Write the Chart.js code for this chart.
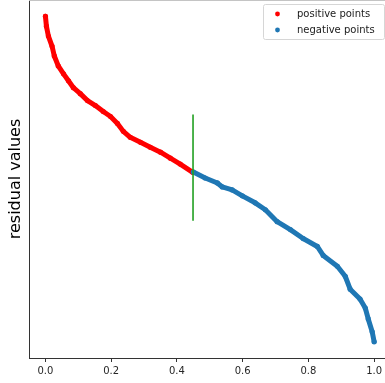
<!DOCTYPE html>
<html>
<head>
<meta charset="utf-8">
<title>residual values</title>
<script src="https://cdn.jsdelivr.net/npm/chart.js"></script>
<style>
  html, body { margin: 0; padding: 0; background: #fff; overflow: hidden; }
  canvas { display: block; }
</style>
</head>
<body>
<canvas id="residuos" width="385" height="383"></canvas>
<script>
// sorted residuals
const posX = [0.000, 0.003, 0.009, 0.020, 0.027, 0.039, 0.055, 0.070, 0.085, 0.106, 0.128, 0.152,
              0.176, 0.198, 0.219, 0.237, 0.258, 0.289, 0.319, 0.350, 0.380, 0.410, 0.447];
const posY = [1.57, 1.47, 1.37, 1.27, 1.17, 1.07, 0.99, 0.92, 0.85, 0.79, 0.72, 0.67,
              0.61, 0.56, 0.49, 0.41, 0.35, 0.30, 0.25, 0.20, 0.14, 0.08, 0.00];
const negX = [0.450, 0.486, 0.523, 0.538, 0.568, 0.599, 0.638, 0.669, 0.705, 0.745, 0.784,
              0.827, 0.845, 0.888, 0.912, 0.927, 0.957, 0.973, 0.982, 0.994, 1.000];
const negY = [0.00, -0.06, -0.11, -0.15, -0.18, -0.24, -0.31, -0.38, -0.50, -0.58, -0.67,
              -0.75, -0.84, -0.95, -1.05, -1.18, -1.28, -1.37, -1.48, -1.61, -1.71];
const splitX = [0.449, 0.449];
const splitY = [0.58, -0.49];
const xTicks = [0.0, 0.2, 0.4, 0.6, 0.8, 1.0];
const legendNames = ['positive points', 'negative points'];

function toPoints(xs, ys) {
  return xs.map((x, i) => ({ x: x, y: ys[i] }));
}

// top spine + legend box like matplotlib
const frameAndLegend = {
  id: 'frameAndLegend',
  afterDraw(chart) {
    const ctx = chart.ctx;
    const area = chart.chartArea;
    ctx.save();
    ctx.strokeStyle = '#c4c4c4';
    ctx.lineWidth = 1;
    ctx.beginPath();
    ctx.moveTo(area.left, area.top + 0.5);
    ctx.lineTo(area.right, area.top + 0.5);
    ctx.stroke();

    const bx = 263.5, by = 4.5, bw = 121, bh = 35;
    ctx.fillStyle = 'rgba(255,255,255,0.8)';
    ctx.strokeStyle = '#d6d6d6';
    ctx.beginPath();
    ctx.roundRect(bx, by, bw, bh, 2);
    ctx.fill();
    ctx.stroke();

    ctx.font = '10px "DejaVu Sans"';
    ctx.textBaseline = 'middle';
    ctx.textAlign = 'left';
    const rows = chart.data.datasets.filter(d => legendNames.includes(d.label));
    rows.forEach((d, i) => {
      const cy = 14 + i * 16;
      ctx.fillStyle = d.pointBackgroundColor;
      ctx.beginPath();
      ctx.arc(277.5, cy, 2.4, 0, Math.PI * 2);
      ctx.fill();
      ctx.fillStyle = '#1a1a1a';
      ctx.fillText(d.label, 297, cy + 0.5);
    });
    ctx.restore();
  }
};

const ctx = document.getElementById('residuos').getContext('2d');
const grafico = new Chart(ctx, {
  type: 'scatter',
  data: {
    datasets: [
      {
        label: legendNames[0],
        data: toPoints(posX, posY),
        showLine: true,
        borderColor: '#ff0000',
        borderWidth: 5,
        borderJoinStyle: 'round',
        borderCapStyle: 'round',
        pointBackgroundColor: '#ff0000',
        pointBorderWidth: 0,
        pointRadius: 2.6,
        order: 3
      },
      {
        label: legendNames[1],
        data: toPoints(negX, negY),
        showLine: true,
        borderColor: '#1f77b4',
        borderWidth: 5,
        borderJoinStyle: 'round',
        borderCapStyle: 'round',
        pointBackgroundColor: '#1f77b4',
        pointBorderWidth: 0,
        pointRadius: 2.6,
        order: 2
      },
      {
        label: 'split',
        data: toPoints(splitX, splitY),
        showLine: true,
        borderColor: '#22a022',
        borderWidth: 1.6,
        pointRadius: 0,
        order: 1
      }
    ]
  },
  options: {
    responsive: false,
    animation: false,
    devicePixelRatio: 1,
    layout: { padding: 0, autoPadding: false },
    plugins: {
      legend: { display: false },
      tooltip: { enabled: false }
    },
    scales: {
      x: {
        type: 'linear',
        min: -0.05,
        max: 1.033,
        afterBuildTicks: (s) => { s.ticks = xTicks.map(v => ({ value: v })); },
        afterFit: (s) => { s.height = 25; s.paddingLeft = 0; s.paddingRight = 0; },
        grid: {
          display: true,
          drawOnChartArea: false,
          drawTicks: true,
          tickLength: 4,
          color: '#333'
        },
        border: { display: true, color: '#333', width: 1 },
        ticks: {
          padding: 3,
          color: '#262626',
          font: { family: 'DejaVu Sans', size: 10 },
          callback: (v) => Number(v).toFixed(1),
          maxRotation: 0
        }
      },
      y: {
        type: 'linear',
        min: -1.874,
        max: 1.734,
        afterFit: (s) => { s.width = 29; s.paddingTop = 0; s.paddingBottom = 0; },
        grid: { display: false },
        border: { display: true, color: '#333', width: 1 },
        ticks: { display: false },
        title: {
          display: true,
          text: 'residual values',
          color: '#000',
          font: { family: 'DejaVu Sans', size: 16 },
          padding: { top: 6, bottom: 0 }
        }
      }
    }
  },
  plugins: [frameAndLegend]
});
</script>
</body>
</html>
